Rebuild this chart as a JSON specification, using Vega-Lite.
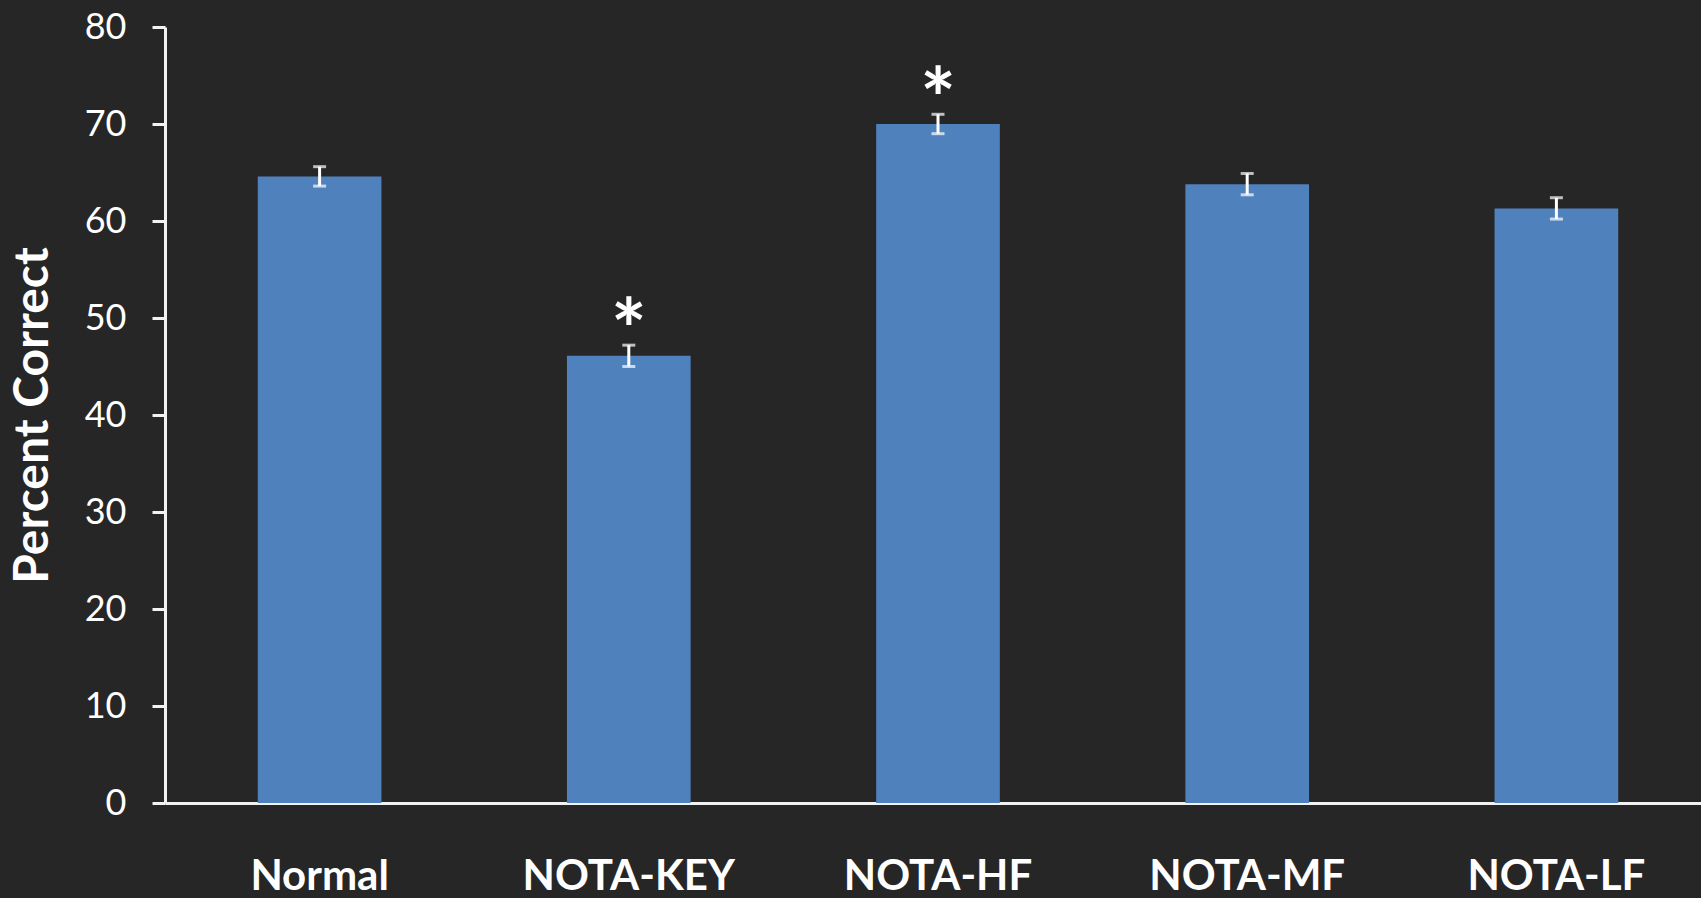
{
  "$schema": "https://vega.github.io/schema/vega-lite/v6.json",
  "width": 1536,
  "height": 776,
  "autosize": "none",
  "padding": {"left": 165, "top": 27, "right": 0, "bottom": 95},
  "background": "#262626",
  "config": {
    "view": {"stroke": null},
    "font": "Lato",
    "axisX": {
      "title": null,
      "labelAngle": 0,
      "domain": true,
      "domainColor": "#f2f2f2",
      "domainWidth": 3,
      "ticks": false,
      "tickSize": 0,
      "labelPadding": 53,
      "labelFontSize": 42,
      "labelFontWeight": "bold",
      "labelColor": "#ffffff",
      "labelFont": "Lato",
      "labelLimit": 0
    },
    "axisY": {
      "grid": false,
      "domainColor": "#f2f2f2",
      "domainWidth": 3,
      "tickColor": "#f2f2f2",
      "tickWidth": 3,
      "tickSize": 13,
      "labelPadding": 26,
      "labelFontSize": 36,
      "labelColor": "#ffffff",
      "labelFont": "Lato",
      "titleFont": "Lato",
      "titleFontSize": 48,
      "titleFontWeight": "bold",
      "titleColor": "#ffffff",
      "titlePadding": 27
    }
  },
  "data": {
    "values": [
      {"condition": "Normal", "pct": 64.6, "lo": 63.6, "hi": 65.6, "sig": ""},
      {"condition": "NOTA-KEY", "pct": 46.1, "lo": 45.0, "hi": 47.2, "sig": "*"},
      {"condition": "NOTA-HF", "pct": 70.0, "lo": 69.0, "hi": 71.0, "sig": "*"},
      {"condition": "NOTA-MF", "pct": 63.8, "lo": 62.7, "hi": 64.9, "sig": ""},
      {"condition": "NOTA-LF", "pct": 61.3, "lo": 60.2, "hi": 62.4, "sig": ""}
    ]
  },
  "encoding": {
    "x": {
      "field": "condition",
      "type": "nominal",
      "sort": null,
      "title": null,
      "scale": {"paddingInner": 0.6, "paddingOuter": 0.3, "range": [0, 1546]}
    }
  },
  "layer": [
    {
      "mark": {"type": "bar", "color": "#4f81bd"},
      "encoding": {
        "y": {
          "field": "pct",
          "type": "quantitative",
          "title": "Percent Correct",
          "scale": {"domain": [0, 80], "nice": false},
          "axis": {"values": [0, 10, 20, 30, 40, 50, 60, 70, 80]}
        }
      }
    },
    {
      "mark": {
        "type": "errorbar",
        "color": "#ffffff",
        "thickness": 3,
        "ticks": {"size": 13, "thickness": 3, "color": "#ffffff"}
      },
      "encoding": {
        "y": {"field": "lo", "type": "quantitative", "title": "Percent Correct"},
        "y2": {"field": "hi"}
      }
    },
    {
      "mark": {
        "type": "text",
        "color": "#ffffff",
        "fontSize": 84,
        "fontWeight": "bold",
        "font": "Lato",
        "baseline": "middle",
        "dy": -10
      },
      "encoding": {
        "y": {"field": "hi", "type": "quantitative", "title": "Percent Correct"},
        "text": {"field": "sig"}
      }
    }
  ]
}
